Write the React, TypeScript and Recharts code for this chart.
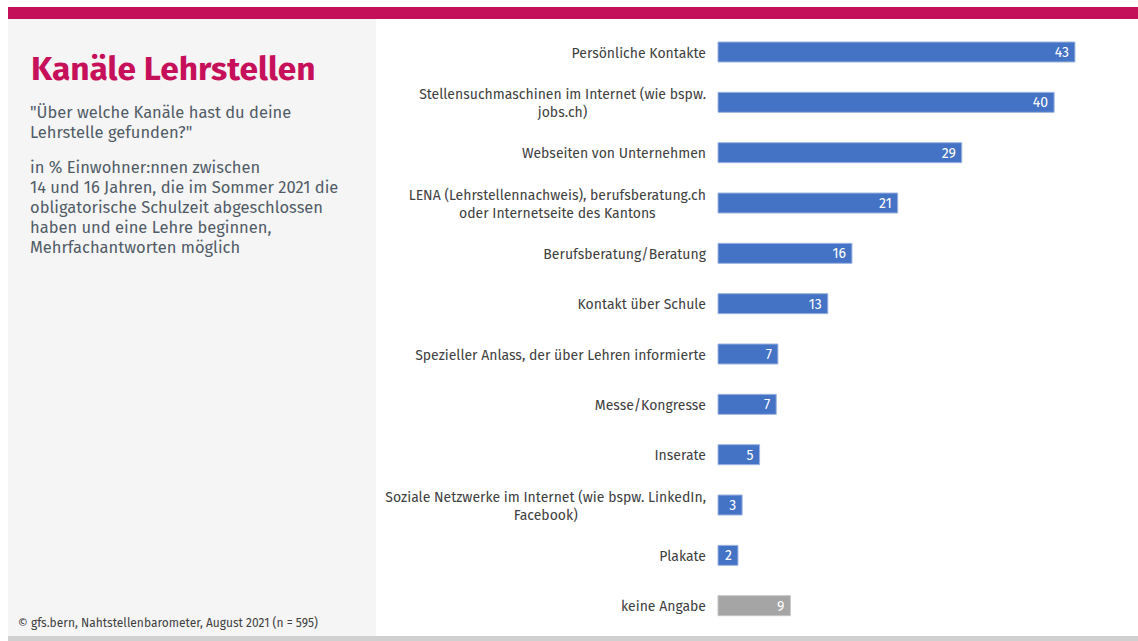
import React from 'react'
import { BarChart, Bar, XAxis, YAxis, Cell, LabelList } from 'recharts'

const categories = [
  'Persönliche Kontakte',
  'Stellensuchmaschinen im Internet (wie bspw.\njobs.ch)',
  'Webseiten von Unternehmen',
  'LENA (Lehrstellennachweis), berufsberatung.ch\noder Internetseite des Kantons',
  'Berufsberatung/Beratung',
  'Kontakt über Schule',
  'Spezieller Anlass, der über Lehren informierte',
  'Messe/Kongresse',
  'Inserate',
  'Soziale Netzwerke im Internet (wie bspw. LinkedIn,\nFacebook)',
  'Plakate',
  'keine Angabe',
]

const shares = [42.9, 40.4, 29.3, 21.6, 16.1, 13.2, 7.2, 7.0, 5.0, 2.9, 2.4, 8.7]

const labels = ['43', '40', '29', '21', '16', '13', '7', '7', '5', '3', '2', '9']

const data = categories.map((name, i) => ({ name, value: shares[i], label: labels[i] }))

const FONT = '"Fira Sans", Roboto, sans-serif'
const TICK_SIZE = 14

let ctx: CanvasRenderingContext2D | null = null
function measure(text: string) {
  if (!ctx) ctx = document.createElement('canvas').getContext('2d')
  if (!ctx) return text.length * 7
  ctx.font = `${TICK_SIZE}px ${FONT}`
  return ctx.measureText(text).width
}

// multi-line labels: block right-aligned to the axis, lines centred inside it
function CategoryTick({ x, y, payload }: any) {
  const lines: string[] = String(payload.value).split('\n')
  const maxW = Math.max(...lines.map(measure))
  const cx = x - maxW / 2
  const lh = 18
  const start = y + 1 - ((lines.length - 1) * lh) / 2
  return (
    <g>
      {lines.map((l, i) => (
        <text
          key={i}
          x={cx}
          y={start + i * lh}
          textAnchor="middle"
          dominantBaseline="central"
          fontSize={TICK_SIZE}
          fontFamily={FONT}
          fill="#404040"
        >
          {l}
        </text>
      ))}
    </g>
  )
}

export default function App() {
  return (
    <div
      style={{
        position: 'absolute',
        left: 0,
        top: 0,
        width: 1138,
        height: 641,
        background: '#fff',
        fontFamily: FONT,
        overflow: 'hidden',
      }}
    >
      <div style={{ position: 'absolute', left: 8, top: 7, width: 1130, height: 12, background: '#c41058' }} />
      <div style={{ position: 'absolute', left: 8, top: 19, width: 368, height: 617, background: '#f5f5f5' }} />
      <div style={{ position: 'absolute', left: 8, top: 636, width: 1130, height: 5, background: '#d0d0d0' }} />

      <div
        style={{
          position: 'absolute',
          left: 31,
          top: 49,
          fontSize: 33.5,
          fontWeight: 700,
          color: '#c6105a',
          whiteSpace: 'nowrap',
        }}
      >
        Kanäle Lehrstellen
      </div>
      <div
        style={{
          position: 'absolute',
          left: 30,
          top: 103,
          width: 345,
          fontSize: 16.5,
          lineHeight: '20px',
          color: '#515c67',
        }}
      >
        "Über welche Kanäle hast du deine
        <br />
        Lehrstelle gefunden?"
      </div>
      <div
        style={{
          position: 'absolute',
          left: 30,
          top: 158,
          width: 345,
          fontSize: 16.5,
          lineHeight: '20px',
          color: '#515c67',
        }}
      >
        in % Einwohner:nnen zwischen
        <br />
        14 und 16 Jahren, die im Sommer 2021 die
        <br />
        obligatorische Schulzeit abgeschlossen
        <br />
        haben und eine Lehre beginnen,
        <br />
        Mehrfachantworten möglich
      </div>
      <div
        style={{
          position: 'absolute',
          left: 18,
          top: 616,
          fontSize: 12,
          color: '#404040',
          whiteSpace: 'nowrap',
        }}
      >
        © gfs.bern, Nahtstellenbarometer, August 2021 (n = 595)
      </div>

      <div style={{ position: 'absolute', left: 376, top: 27 }}>
        <BarChart
          width={762}
          height={604}
          data={data}
          layout="vertical"
          margin={{ top: 0, right: 4, bottom: 0, left: 0 }}
          barCategoryGap={0}
        >
          <XAxis type="number" domain={[0, 50]} hide />
          <YAxis
            type="category"
            dataKey="name"
            width={342}
            axisLine={false}
            tickLine={false}
            tickSize={0}
            tickMargin={12}
            interval={0}
            tick={<CategoryTick />}
          />
          <Bar dataKey="value" barSize={20} stroke="#9db4e0" strokeWidth={1} isAnimationActive={false}>
            {data.map((d, i) => (
              <Cell
                key={d.name}
                fill={i === data.length - 1 ? '#a5a5a5' : '#4472c4'}
                stroke={i === data.length - 1 ? '#c4c4c4' : '#9db4e0'}
              />
            ))}
            <LabelList
              dataKey="label"
              position="insideRight"
              offset={6}
              fill="#ffffff"
              fontSize={14}
              fontFamily={FONT}
            />
          </Bar>
        </BarChart>
      </div>
    </div>
  )
}
